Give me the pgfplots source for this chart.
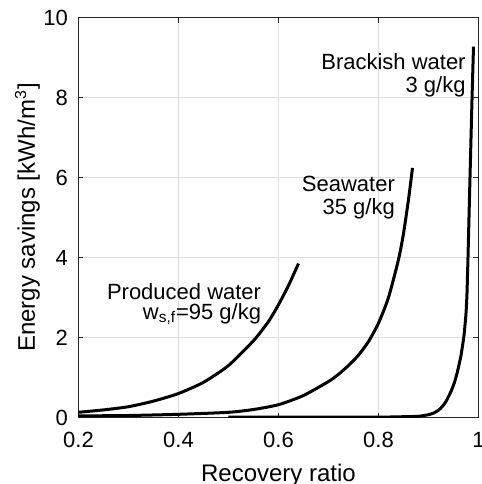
\documentclass[border=0pt]{standalone}
\usepackage{fontspec}
\setmainfont{Liberation Sans}
\usepackage{pgfplots}
\pgfplotsset{compat=1.18}

\definecolor{axgray}{gray}{0.15}
\definecolor{gridgray}{gray}{0.87}

\begin{document}
\begin{tikzpicture}
\begin{axis}[
  name=ax,
  scale only axis,
  width=200pt, height=200pt,
  xmin=0.2, xmax=1, ymin=0, ymax=10,
  xtick={0.2,0.4,0.6,0.8,1},
  xticklabels={0.2,0.4,0.6,0.8,1},
  ytick={0,2,4,6,8,10},
  tick align=inside,
  major tick length=2.5pt,
  tick style={axgray, line width=0.5pt},
  axis line style={axgray, line width=0.5pt},
  grid=major,
  major grid style={gridgray, line width=0.5pt},
  /pgf/number format/assume math mode=true,
  ticklabel style={font=\fontsize{11}{13}\selectfont, text=black},
  xticklabel style={yshift=-4pt},
  yticklabel style={xshift=-1.8pt},
  label style={font=\fontsize{12}{14}\selectfont},
  xlabel={Recovery ratio},
  xlabel style={at={(axis description cs:0.5,-0.115)}, anchor=north, inner sep=0pt},
  ylabel={Energy savings [kWh/m\textsuperscript{3}]},
  ylabel style={at={(axis description cs:-0.1275,0.5)}, anchor=center, inner sep=0pt},
]
% produced water, w_sf = 95 g/kg
\addplot[black, line width=1.5pt, no marks, smooth, tension=0.4] coordinates {
  (0.20,0.13) (0.25,0.19) (0.30,0.27) (0.35,0.41) (0.40,0.60)
  (0.45,0.88) (0.50,1.30) (0.55,1.92) (0.58,2.40) (0.60,2.82)
  (0.62,3.30) (0.64,3.85)
};
% seawater, 35 g/kg
\addplot[black, line width=1.5pt, no marks, smooth, tension=0.4] coordinates {
  (0.20,0.04) (0.30,0.05) (0.40,0.08) (0.50,0.13) (0.55,0.20)
  (0.60,0.32) (0.65,0.55) (0.70,0.90) (0.72,1.08) (0.74,1.30)
  (0.76,1.56) (0.78,1.90) (0.80,2.36) (0.82,3.00) (0.84,3.95)
  (0.85,4.60) (0.86,5.45) (0.868,6.24)
};
% brackish water, 3 g/kg
\addplot[black, line width=1.5pt, no marks, smooth, tension=0.3] coordinates {
  (0.50,0.01) (0.80,0.01) (0.85,0.02) (0.88,0.03) (0.90,0.07)
  (0.91,0.11) (0.92,0.18) (0.928,0.28) (0.935,0.40) (0.945,0.65)
  (0.952,0.88) (0.958,1.15) (0.965,1.55) (0.971,2.05) (0.975,2.60)
  (0.977,3.10) (0.979,4.00) (0.983,6.00) (0.987,7.94) (0.990,9.27)
};

\node[anchor=north east, inner sep=0pt, align=right, font=\fontsize{11}{11.2}\selectfont]
  at (axis cs:0.975,9.1) {Brackish water\\3 g/kg};
\node[anchor=north east, inner sep=0pt, align=right, font=\fontsize{11}{11.3}\selectfont]
  at (axis cs:0.8335,6.04) {Seawater\\35 g/kg};
\node[anchor=north east, inner sep=0pt, align=right, font=\fontsize{11}{10}\selectfont]
  at (axis cs:0.566,3.37) {Produced water\\w\textsubscript{s,f}=95 g/kg};
\end{axis}
\pgfresetboundingbox
\path[use as bounding box] ([shift={(-39.25pt,-33.25pt)}]ax.south west)
  rectangle ([shift={(1.75pt,8.75pt)}]ax.north east);
\end{tikzpicture}
\end{document}
